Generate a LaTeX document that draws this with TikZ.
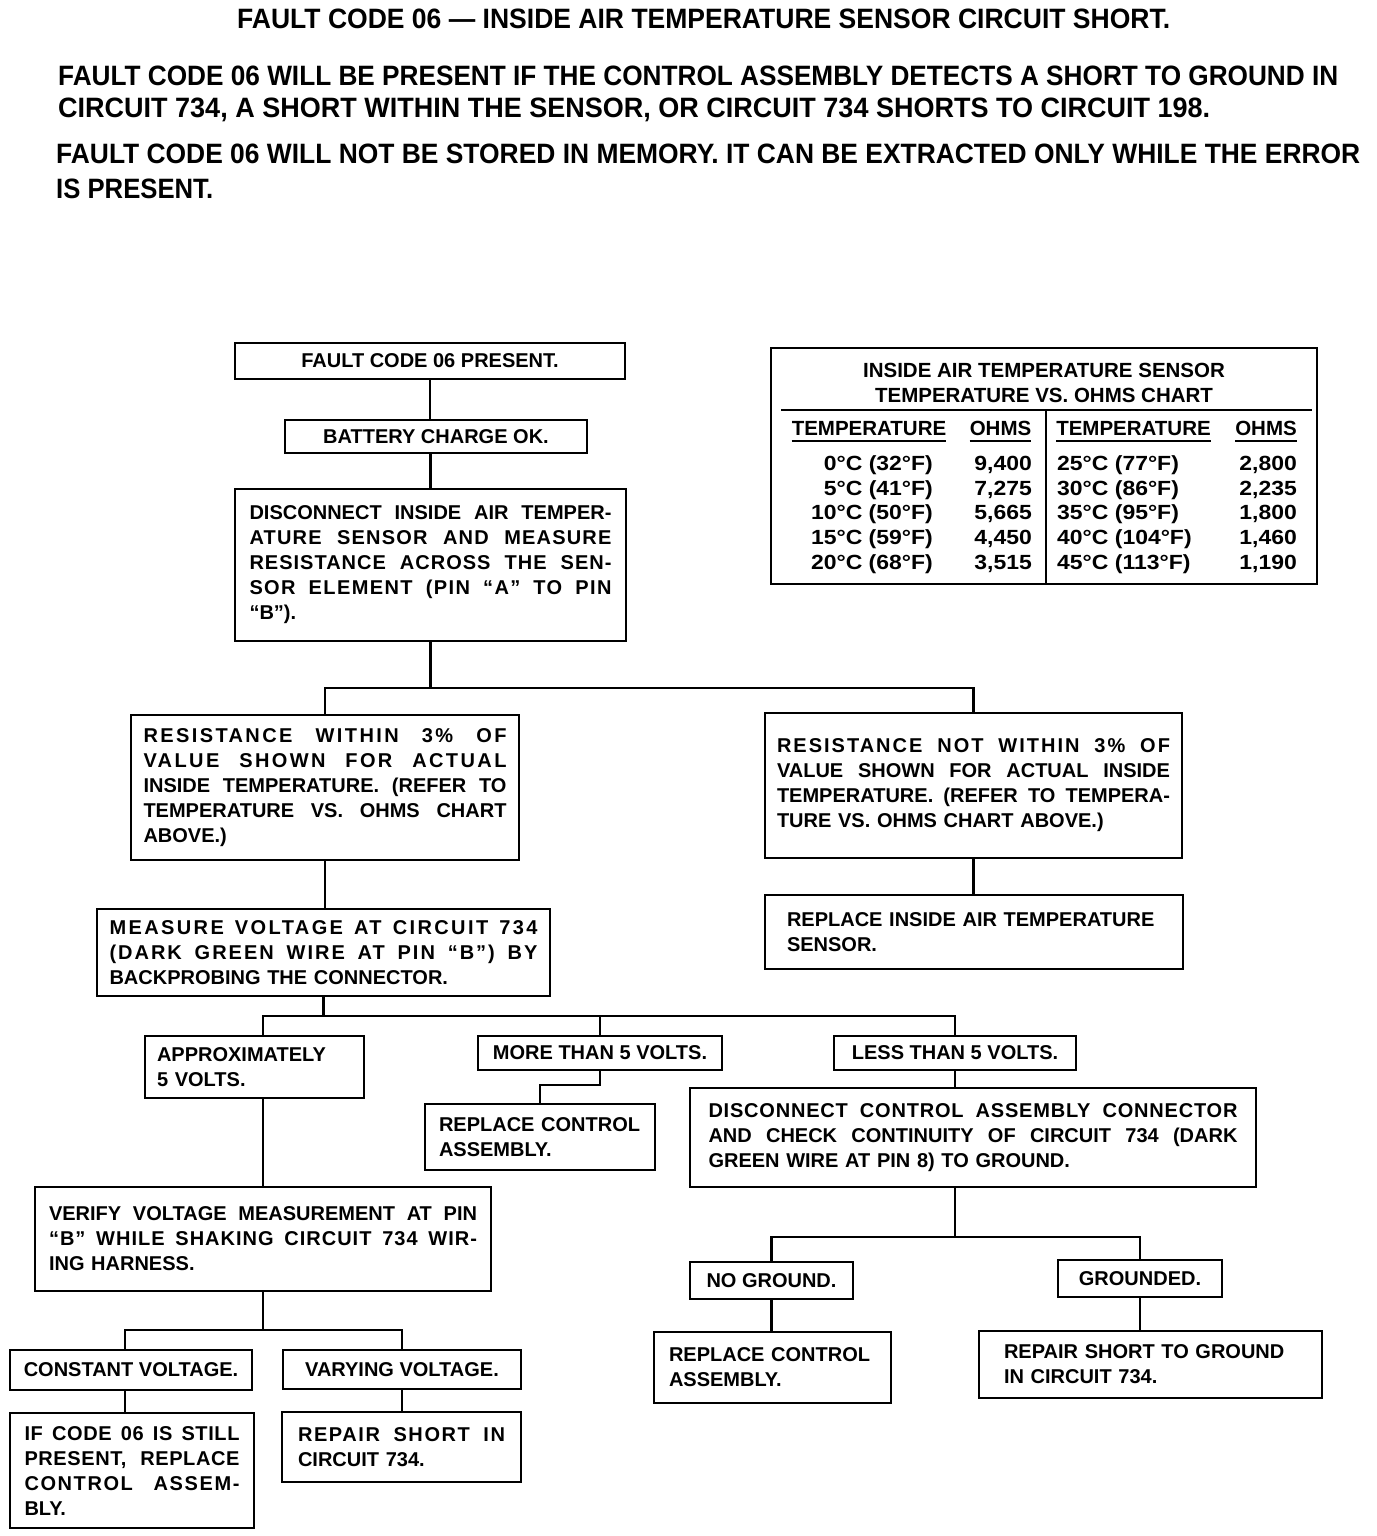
\documentclass[tikz,border=0pt]{standalone}
\usepackage{fontspec}
\setmainfont{Liberation Sans}
\usepackage{graphicx}
\usetikzlibrary{calc}
\newcommand\bodyfont{\fontsize{20}{25}\selectfont\bfseries}
\newcommand\chartfont{\fontsize{20.5}{25}\selectfont\bfseries}
\newcommand\headfont{\fontsize{28}{30}\selectfont\bfseries}
\newcommand\jl[1]{\makebox[\hsize][s]{\spaceskip=0.28em plus 1fil\relax #1}}
\newcommand\jls[2]{\makebox[\hsize][s]{\addfontfeature{LetterSpace=#1}\spaceskip=0.28em plus 1fil\relax #2}}
\newcommand\fitline[2]{\resizebox{#1}{\height}{#2}}
\newcommand\wdr[1]{\scalebox{1.12}[1]{#1}}
\tikzset{
  bx/.style={draw, line width=2.6pt, inner sep=0pt, font=\bodyfont, align=left},
  cbx/.style={draw, line width=2.6pt, inner sep=0pt, font=\bodyfont, align=center},
  conn/.style={line width=2.4pt},
  hd/.style={anchor=base west, inner sep=0pt, font=\headfont},
  cell/.style={inner sep=0pt, font=\chartfont},
  uline/.style={line width=1.8pt},
}
\begin{document}
\begin{tikzpicture}[x=1pt,y=-1pt]
\fill[white] (0,0) rectangle (1376,1536);
\useasboundingbox (0,0) rectangle (1376,1536);

% header
\node[hd] (t0) at (237,29) {\fitline{933pt}{FAULT CODE 06 — INSIDE AIR TEMPERATURE SENSOR CIRCUIT SHORT.}};
\node[hd] (p1a) at (58,86) {\fitline{1280pt}{FAULT CODE 06 WILL BE PRESENT IF THE CONTROL ASSEMBLY DETECTS A SHORT TO GROUND IN}};
\node[hd] (p1b) at (58,118) {\fitline{1152pt}{CIRCUIT 734, A SHORT WITHIN THE SENSOR, OR CIRCUIT 734 SHORTS TO CIRCUIT 198.}};
\node[hd] (p2a) at (56,164) {\fitline{1304pt}{FAULT CODE 06 WILL NOT BE STORED IN MEMORY. IT CAN BE EXTRACTED ONLY WHILE THE ERROR}};
\node[hd] (p2b) at (56,198) {\fitline{157pt}{IS PRESENT.}};

% chart
\node[draw, line width=2.6pt, minimum width=546pt, minimum height=236pt, inner sep=0pt] (chart) at (1044,466) {};
\node[cell, anchor=base] (ct1) at (1044,377) {INSIDE AIR TEMPERATURE SENSOR};
\node[cell, anchor=base] (ct2) at (1044,402) {TEMPERATURE VS. OHMS CHART};
\coordinate (rl) at (781,410);
\coordinate (rr) at (1312,410);
\coordinate (dv) at (1046,410);
\draw[line width=2.4pt] (rl) -- (rr);
\draw[line width=2.4pt] (dv) -- (dv |- chart.south);
\node[cell, anchor=base] (h1) at (869,435) {TEMPERATURE};
\node[cell, anchor=base] (h2) at (1000.5,435) {OHMS};
\node[cell, anchor=base] (h3) at (1133.5,435) {TEMPERATURE};
\node[cell, anchor=base] (h4) at (1266,435) {OHMS};
\draw[uline] ([yshift=-6pt]h1.base west) -- ([yshift=-6pt]h1.base east);
\draw[uline] ([yshift=-6pt]h2.base west) -- ([yshift=-6pt]h2.base east);
\draw[uline] ([yshift=-6pt]h3.base west) -- ([yshift=-6pt]h3.base east);
\draw[uline] ([yshift=-6pt]h4.base west) -- ([yshift=-6pt]h4.base east);

\node[cell, anchor=base east] (a1) at (933,470) {\wdr{0°C (32°F)}};
\node[cell, anchor=base east] (a2) at (933,495) {\wdr{5°C (41°F)}};
\node[cell, anchor=base east] (a3) at (933,519) {\wdr{10°C (50°F)}};
\node[cell, anchor=base east] (a4) at (933,544) {\wdr{15°C (59°F)}};
\node[cell, anchor=base east] (a5) at (933,569) {\wdr{20°C (68°F)}};
\node[cell, anchor=base east] (b1) at (1032,470) {\wdr{9,400}};
\node[cell, anchor=base east] (b2) at (1032,495) {\wdr{7,275}};
\node[cell, anchor=base east] (b3) at (1032,519) {\wdr{5,665}};
\node[cell, anchor=base east] (b4) at (1032,544) {\wdr{4,450}};
\node[cell, anchor=base east] (b5) at (1032,569) {\wdr{3,515}};
\node[cell, anchor=base west] (c1) at (1057,470) {\wdr{25°C (77°F)}};
\node[cell, anchor=base west] (c2) at (1057,495) {\wdr{30°C (86°F)}};
\node[cell, anchor=base west] (c3) at (1057,519) {\wdr{35°C (95°F)}};
\node[cell, anchor=base west] (c4) at (1057,544) {\wdr{40°C (104°F)}};
\node[cell, anchor=base west] (c5) at (1057,569) {\wdr{45°C (113°F)}};
\node[cell, anchor=base east] (d1) at (1297,470) {\wdr{2,800}};
\node[cell, anchor=base east] (d2) at (1297,495) {\wdr{2,235}};
\node[cell, anchor=base east] (d3) at (1297,519) {\wdr{1,800}};
\node[cell, anchor=base east] (d4) at (1297,544) {\wdr{1,460}};
\node[cell, anchor=base east] (d5) at (1297,569) {\wdr{1,190}};

% flowchart boxes
\node[cbx, minimum width=390pt, minimum height=36pt] (fc) at (430,361) {FAULT CODE 06 PRESENT.};
\node[cbx, minimum width=302pt, minimum height=33pt] (bat) at (436,436.5) {BATTERY CHARGE OK.};
\node[bx, minimum width=391pt, minimum height=152pt, text width=362pt] (dis) at (430.5,565)
  {\jl{DISCONNECT INSIDE AIR TEMPER-}\\\jls{6}{ATURE SENSOR AND MEASURE}\\\jls{5}{RESISTANCE ACROSS THE SEN-}\\\jls{7}{SOR ELEMENT (PIN ``A'' TO PIN}\\``B'').};
\node[bx, minimum width=388pt, minimum height=145pt, text width=363pt] (rw) at (325,787.5)
  {\jls{12}{RESISTANCE WITHIN 3\% OF}\\\jls{12}{VALUE SHOWN FOR ACTUAL}\\\jl{INSIDE TEMPERATURE. (REFER TO}\\\jl{TEMPERATURE VS. OHMS CHART}\\ABOVE.)};
\node[bx, minimum width=417pt, minimum height=145pt, text width=393pt] (rnw) at (973.5,785.5)
  {\jls{10}{RESISTANCE NOT WITHIN 3\% OF}\\\jl{VALUE SHOWN FOR ACTUAL INSIDE}\\\jl{TEMPERATURE. (REFER TO TEMPERA-}\\TURE VS. OHMS CHART ABOVE.)};
\node[bx, minimum width=418pt, minimum height=74pt, text width=374pt] (rs) at (974,932)
  {REPLACE INSIDE AIR TEMPERATURE\\SENSOR.};
\node[bx, minimum width=453pt, minimum height=87pt, text width=428pt] (mv) at (323.5,952.5)
  {\jls{12}{MEASURE VOLTAGE AT CIRCUIT 734}\\\jls{10}{(DARK GREEN WIRE AT PIN ``B'') BY}\\BACKPROBING THE CONNECTOR.};
\node[bx, minimum width=219pt, minimum height=62pt, text width=195pt] (ap) at (254.5,1067)
  {APPROXIMATELY\\5 VOLTS.};
\node[cbx, minimum width=244pt, minimum height=34pt] (mt) at (600,1053) {MORE THAN 5 VOLTS.};
\node[cbx, minimum width=242pt, minimum height=34pt] (lt) at (955,1053) {LESS THAN 5 VOLTS.};
\node[bx, minimum width=230pt, minimum height=66pt, text width=202pt] (rc1) at (540,1137)
  {REPLACE CONTROL\\ASSEMBLY.};
\node[bx, minimum width=566pt, minimum height=99pt, text width=529pt] (dc) at (973,1137.5)
  {\jls{4}{DISCONNECT CONTROL ASSEMBLY CONNECTOR}\\\jl{AND CHECK CONTINUITY OF CIRCUIT 734 (DARK}\\GREEN WIRE AT PIN 8) TO GROUND.};
\node[cbx, minimum width=163pt, minimum height=37pt] (ng) at (771.5,1280.5) {NO GROUND.};
\node[cbx, minimum width=164pt, minimum height=37pt] (gd) at (1140,1278.5) {GROUNDED.};
\node[bx, minimum width=237pt, minimum height=71pt, text width=207pt] (rc2) at (772.5,1367.5)
  {REPLACE CONTROL\\ASSEMBLY.};
\node[bx, minimum width=343pt, minimum height=67pt, text width=293pt] (rg) at (1150.5,1364.5)
  {REPAIR SHORT TO GROUND\\IN CIRCUIT 734.};
\node[bx, minimum width=456pt, minimum height=104pt, text width=428pt] (vf) at (263,1239)
  {\jl{VERIFY VOLTAGE MEASUREMENT AT PIN}\\\jls{5}{``B'' WHILE SHAKING CIRCUIT 734 WIR-}\\ING HARNESS.};
\node[cbx, minimum width=242pt, minimum height=40pt] (cv) at (131,1370) {CONSTANT VOLTAGE.};
\node[cbx, minimum width=238pt, minimum height=39pt] (vv) at (402,1369.5) {VARYING VOLTAGE.};
\node[bx, minimum width=244pt, minimum height=115pt, text width=215pt] (ic) at (132,1470.5)
  {\jls{3}{IF CODE 06 IS STILL}\\\jls{3}{PRESENT, REPLACE}\\\jls{8}{CONTROL ASSEM-}\\BLY.};
\node[bx, minimum width=239pt, minimum height=70pt, text width=207pt] (rsi) at (401.5,1447)
  {\jls{8}{REPAIR SHORT IN}\\CIRCUIT 734.};

% connectors
\coordinate (s1) at (432,688);
\coordinate (s2) at (322,1016);
\coordinate (s3) at (541,1085);
\coordinate (s4) at (953,1237);
\coordinate (s5) at (125,1330);
\draw[conn] (fc.south) -- (fc.south |- bat.north);
\draw[conn] (dis.north) -- (dis.north |- bat.south);
\draw[conn] (dis.south) -- (dis.south |- s1);
\draw[conn] (rw.north) -- (rw.north |- s1) -- (rnw.north |- s1) -- (rnw.north);
\draw[conn] (rw.south) -- (rw.south |- mv.north);
\draw[conn] (rnw.south) -- (rnw.south |- rs.north);
\draw[conn] (mv.south) -- (mv.south |- s2);
\draw[conn] (ap.north -| vf.north) -- (vf.north |- s2) -- (lt.north |- s2) -- (lt.north);
\draw[conn] (mt.north) -- (mt.north |- s2);
\draw[conn] (mt.south) -- (mt.south |- s3) -- (rc1.north |- s3) -- (rc1.north);
\draw[conn] (lt.south) -- (lt.south |- dc.north);
\draw[conn] (vf.north) -- (vf.north |- ap.south);
\draw[conn] (dc.south -| lt.south) -- (lt.south |- s4);
\draw[conn] (ng.north) -- (ng.north |- s4) -- (gd.north |- s4) -- (gd.north);
\draw[conn] (ng.south) -- (ng.south |- rc2.north);
\draw[conn] (gd.south) -- (gd.south |- rg.north);
\draw[conn] (vf.south) -- (vf.south |- s5);
\draw[conn] (cv.north -| s5) -- (s5) -- (vv.north |- s5) -- (vv.north);
\draw[conn] (cv.south -| s5) -- (ic.north -| s5);
\draw[conn] (vv.south) -- (vv.south |- rsi.north);
\end{tikzpicture}
\end{document}
